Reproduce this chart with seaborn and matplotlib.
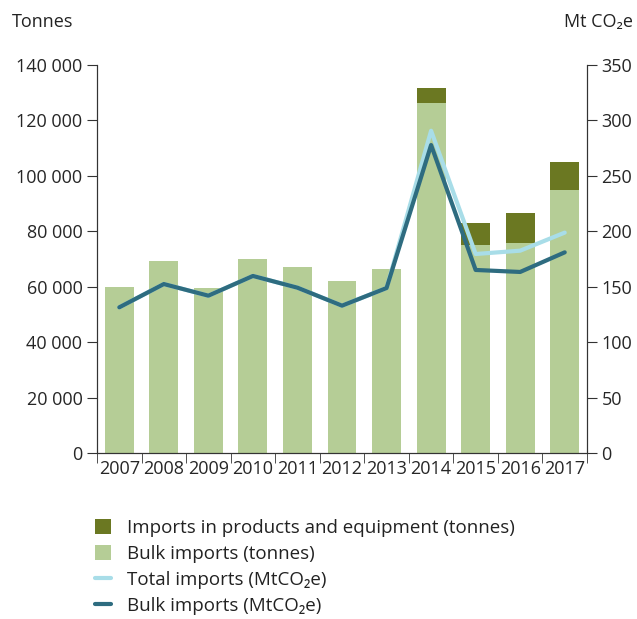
import numpy as np
import pandas as pd
import matplotlib
matplotlib.use("Agg")
import matplotlib.pyplot as plt
import seaborn as sns
from matplotlib.patches import Patch
from matplotlib.lines import Line2D

years = ["2007", "2008", "2009", "2010", "2011", "2012", "2013", "2014", "2015", "2016", "2017"]
bulk_tonnes = [60000, 69300, 59400, 70000, 67100, 62200, 66400, 126200, 75200, 75800, 95000]
total_tonnes = [60000, 69300, 59400, 70000, 67100, 62200, 66400, 131800, 82900, 86500, 104900]
bulk_mt = [131.4, 152.4, 141.9, 159.7, 149.1, 132.9, 148.8, 277.8, 165.1, 163.3, 181.0]
total_mt = [131.4, 152.4, 141.9, 159.7, 149.1, 132.9, 148.8, 290.7, 179.5, 182.5, 198.8]

C_PROD = "#6b7822"
C_BULK = "#b5cd96"
C_TOT_LINE = "#a8dde8"
C_BULK_LINE = "#2e6c80"
SPINE = "#333333"
FS = 13

sns.set_style("ticks")
plt.rcParams["font.family"] = ["Open Sans", "DejaVu Sans"]
plt.rcParams["text.color"] = "#222222"

df = pd.DataFrame({"year": years, "bulk": bulk_tonnes, "total": total_tonnes})

fig = plt.figure(figsize=(6.37, 6.19), dpi=100)
ax = fig.add_axes([0.1523, 0.2682, 0.7692, 0.6268])

sns.barplot(data=df, x="year", y="total", color=C_PROD, width=0.65,
            saturation=1, linewidth=0, ax=ax)
sns.barplot(data=df, x="year", y="bulk", color=C_BULK, width=0.65,
            saturation=1, linewidth=0, ax=ax)

ax.set_ylim(0, 140000)
ax.set_xlim(-0.5, len(years) - 0.5)
ax.set_yticks(np.arange(0, 140001, 20000))
ax.set_yticklabels([f"{v:,}".replace(",", " ") for v in range(0, 140001, 20000)])
ax.set_xlabel("")
ax.set_ylabel("")
ax.set_xticks(np.arange(len(years)))
ax.set_xticklabels(years)
ax.tick_params(axis="x", which="major", length=0, labelsize=FS, pad=5)
ax.set_xticks(np.arange(-0.5, len(years)), minor=True)
ax.tick_params(axis="x", which="minor", length=7, color=SPINE)
ax.tick_params(axis="y", length=7, color=SPINE, labelsize=FS)
for s in ["left", "right", "bottom"]:
    ax.spines[s].set_color(SPINE)
ax.spines["top"].set_visible(False)

ax2 = ax.twinx()
x = np.arange(len(years))
sns.lineplot(x=x, y=total_mt, color=C_TOT_LINE, linewidth=3, ax=ax2)
sns.lineplot(x=x, y=bulk_mt, color=C_BULK_LINE, linewidth=3, ax=ax2)
ax2.set_ylim(0, 350)
ax2.set_xlim(-0.5, len(years) - 0.5)
ax2.set_yticks(np.arange(0, 351, 50))
ax2.tick_params(axis="y", length=7, color=SPINE, labelsize=FS)
ax2.set_ylabel("")
ax2.spines["top"].set_visible(False)
for s in ["left", "right", "bottom"]:
    ax2.spines[s].set_color(SPINE)

fig.text(12 / 637, 1 - 22 / 619, "Tonnes", fontsize=FS, va="center", ha="left")
fig.text(633 / 637, 1 - 22 / 619, "Mt CO₂e", fontsize=FS, va="center", ha="right")

handles = [
    Patch(facecolor=C_PROD, edgecolor="none"),
    Patch(facecolor=C_BULK, edgecolor="none"),
    Line2D([0], [0], color=C_TOT_LINE, linewidth=3),
    Line2D([0], [0], color=C_BULK_LINE, linewidth=3),
]
labels = [
    "Imports in products and equipment (tonnes)",
    "Bulk imports (tonnes)",
    "Total imports (MtCO₂e)",
    "Bulk imports (MtCO₂e)",
]
fig.legend(handles, labels, loc="upper left", bbox_to_anchor=(95 / 637, 1 - 519 / 619),
           frameon=False, fontsize=13.5, handlelength=0.85, handleheight=0.85,
           handletextpad=0.85, labelspacing=0.42, borderaxespad=0, borderpad=0)

fig.savefig("out.png", dpi=100)
